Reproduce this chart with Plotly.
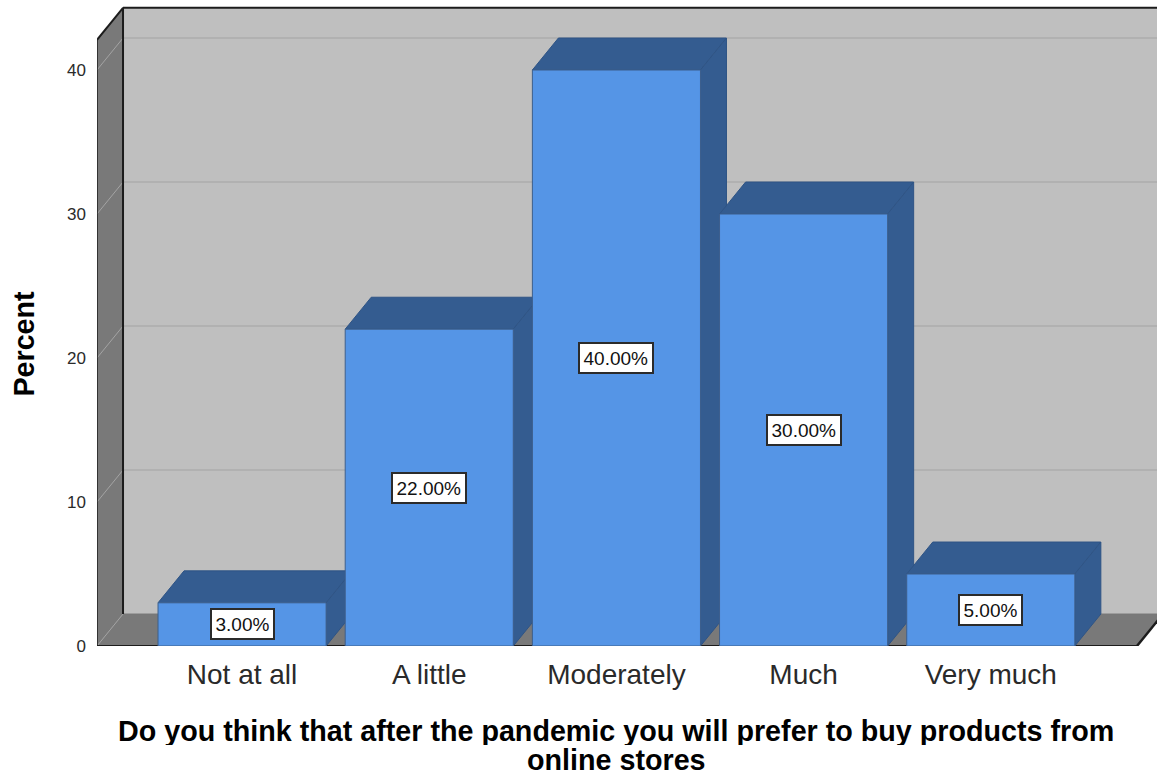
import plotly.graph_objects as go

# Survey responses, in percent
categories = ["Not at all", "A little", "Moderately", "Much", "Very much"]
percent = [3, 22, 40, 30, 5]
value_labels = ["3.00%", "22.00%", "40.00%", "30.00%", "5.00%"]
y_ticks = [0, 10, 20, 30, 40]
x_title_lines = ["Do you think that after the pandemic you will prefer to buy products from",
                 "online stores"]
y_title = "Percent"

FONT = "Liberation Sans"
positions = list(range(len(categories)))

# Chart box extents and the oblique offset of the depth direction, in axis units
X_MIN, X_MAX = -0.775, 4.888
Y_MAX = 44.861
DEPTH_X, DEPTH_Y = 0.139, 2.22
BAR_W = 0.898
WALL_TOP = 42.1
FLOOR_RIGHT = 4.781

FRONT = "#5595e6"
SHADE = "#345c90"
EDGE = "#2f5485"
WALL = "#bfbfbf"
DARK_WALL = "#797979"
GRID = "#b1b1b1"
INK = "#1c1c1c"
LABEL_INK = "#2a2a2a"


def polygon(points, fill, line=None, width=1):
    path = "M" + " L".join(f"{x},{y}" for x, y in points) + " Z"
    return dict(type="path", path=path, xref="x", yref="y", layer="below",
                fillcolor=fill, line=dict(color=line or fill, width=width))


def segment(x0, y0, x1, y1, color, width):
    return dict(type="line", x0=x0, y0=y0, x1=x1, y1=y1, xref="x", yref="y",
                layer="below", line=dict(color=color, width=width))


back_x = X_MIN + DEPTH_X
top_y = WALL_TOP + DEPTH_Y
shapes = [
    # back wall, left wall, floor
    polygon([(back_x, DEPTH_Y), (back_x, top_y), (X_MAX + 1, top_y), (X_MAX + 1, DEPTH_Y)], WALL),
    polygon([(X_MIN, 0), (X_MIN, WALL_TOP), (back_x, top_y), (back_x, DEPTH_Y)], DARK_WALL),
    polygon([(X_MIN, 0), (back_x, DEPTH_Y), (X_MAX + 1, DEPTH_Y),
             (FLOOR_RIGHT + DEPTH_X, DEPTH_Y), (FLOOR_RIGHT, 0)], DARK_WALL),
]

# Grid lines run along the left wall and then across the back wall
for v in y_ticks:
    shapes.append(segment(X_MIN, v, back_x, v + DEPTH_Y, "#a4a4a4", 1))
    if v > 0:
        shapes.append(segment(back_x, v + DEPTH_Y, X_MAX + 1, v + DEPTH_Y, GRID, 2))

# Frame of the box
shapes += [
    segment(X_MIN, 0, X_MIN, WALL_TOP, INK, 1.5),
    segment(X_MIN, WALL_TOP, back_x, top_y, INK, 2),
    segment(back_x, top_y, X_MAX + 1, top_y, INK, 2),
    segment(back_x, DEPTH_Y, back_x, top_y, INK, 2),
    segment(X_MIN, 0, FLOOR_RIGHT, 0, INK, 2),
    segment(FLOOR_RIGHT, 0, FLOOR_RIGHT + DEPTH_X, DEPTH_Y, INK, 2.5),
]

# Top and side faces of each bar, left to right so neighbours overlap correctly
for pos, v in zip(positions, percent):
    left, right = pos - BAR_W / 2, pos + BAR_W / 2
    shapes.append(polygon([(left, v), (left + DEPTH_X, v + DEPTH_Y),
                           (right + DEPTH_X, v + DEPTH_Y), (right, v)], SHADE, EDGE))
    shapes.append(polygon([(right, 0), (right, v), (right + DEPTH_X, v + DEPTH_Y),
                           (right + DEPTH_X, DEPTH_Y)], SHADE, EDGE))

fig = go.Figure(go.Bar(
    x=positions, y=percent, width=BAR_W,
    marker=dict(color=FRONT, line=dict(color="#3d5f8c", width=1)),
    hoverinfo="skip",
))

annotations = [
    dict(x=pos, y=v / 2, xref="x", yref="y", text=label, showarrow=False,
         font=dict(family=FONT, size=19, color="#111111"), bgcolor="#ffffff",
         bordercolor="#2b2b2b", borderwidth=2, borderpad=3.5)
    for pos, v, label in zip(positions, percent, value_labels)
]

# Axis titles sit on the middle category and at a fixed offset below the axis
title_font = dict(family=FONT, size=28.7, color="#000000")
for line, drop in zip(x_title_lines, (-85, -114)):
    annotations.append(dict(
        x=positions[2], y=0, xref="x", yref="y", yanchor="middle", yshift=drop, showarrow=False,
        text=f"<b>{line}</b>", font=title_font, height=28,
    ))
annotations.append(dict(
    x=X_MIN, y=21, xref="x", yref="y", xanchor="center", yanchor="middle", xshift=-73,
    textangle=-90, showarrow=False, text=f"<b>{y_title}</b>", font=title_font,
))

fig.update_layout(
    width=1157, height=775,
    margin=dict(l=97, r=0, t=0, b=129),
    paper_bgcolor="#ffffff", plot_bgcolor="#ffffff",
    showlegend=False,
    shapes=shapes,
    annotations=annotations,
    xaxis=dict(
        range=[X_MIN, X_MAX], tickmode="array", tickvals=positions, ticktext=categories,
        tickfont=dict(family=FONT, size=28, color=LABEL_INK),
        showgrid=False, zeroline=False, showline=False, ticks="", ticklabelstandoff=9,
    ),
    yaxis=dict(
        range=[0, Y_MAX], tickmode="array", tickvals=y_ticks,
        tickfont=dict(family=FONT, size=17, color=LABEL_INK),
        showgrid=False, zeroline=False, showline=False, ticks="", ticklabelstandoff=10,
    ),
)

fig.write_html("out.html")
